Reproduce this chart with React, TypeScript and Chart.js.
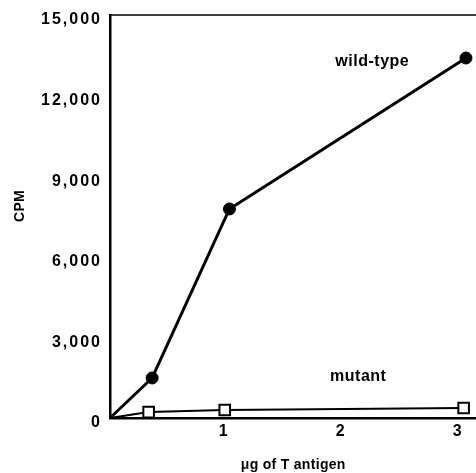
import React, { useEffect, useRef } from "react";
import { Chart, registerables } from "chart.js";

Chart.register(...registerables);

// ---- data ----
const wildTypeX = [0, 0.36, 1.02, 3.04];
const wildTypeY = [0, 1490, 7780, 13400];
const mutantX = [0, 0.33, 0.98, 3.02];
const mutantY = [0, 220, 300, 370];
const yTickValues = [0, 3000, 6000, 9000, 12000, 15000];
const xTickValues = [1, 2, 3];
const seriesNames = ["wild-type", "mutant"];
// label anchors in data space (x, y)
const seriesLabelX = [2.24, 2.12];
const seriesLabelY = [13250, 1530];
const xTitle = "\u03bcg of T antigen";
const yTitle = "CPM";

const FONT = "'Liberation Sans', Arial, Helvetica, sans-serif";

export default function App() {
  const ref = useRef<HTMLCanvasElement | null>(null);

  useEffect(() => {
    const canvas = ref.current;
    if (!canvas) return;

    const textPlugin = {
      id: "textPlugin",
      beforeDraw(chart: any) {
        chart.ctx.letterSpacing = "2px";
      },
      afterDraw(chart: any) {
        const ctx = chart.ctx;
        const { left, right, top } = chart.chartArea;
        const xs = chart.scales.x;
        const ys = chart.scales.y;
        ctx.save();
        // top frame line
        ctx.strokeStyle = "#000";
        ctx.lineWidth = 1.5;
        ctx.beginPath();
        ctx.moveTo(left - 1, top);
        ctx.lineTo(right, top);
        ctx.stroke();

        ctx.fillStyle = "#000";
        ctx.textAlign = "center";
        ctx.textBaseline = "middle";
        ctx.letterSpacing = "0.5px";
        ctx.font = `bold 16px ${FONT}`;
        seriesNames.forEach((n, i) => {
          ctx.fillText(
            n,
            xs.getPixelForValue(seriesLabelX[i]),
            ys.getPixelForValue(seriesLabelY[i])
          );
        });

        ctx.font = `bold 14px ${FONT}`;
        ctx.letterSpacing = "0.3px";
        ctx.fillText(xTitle, (left + right) / 2, 465);

        ctx.translate(20, 206);
        ctx.rotate(-Math.PI / 2);
        ctx.fillText(yTitle, 0, 0);
        ctx.restore();
      },
    };

    const chart = new Chart(canvas, {
      type: "line",
      data: {
        datasets: [
          {
            label: seriesNames[0],
            data: wildTypeX.map((x, i) => ({ x, y: wildTypeY[i] })),
            borderColor: "#000",
            borderWidth: 3,
            backgroundColor: "#000",
            pointBackgroundColor: "#000",
            pointBorderColor: "#000",
            pointBorderWidth: 1,
            pointRadius: wildTypeX.map((_, i) => (i === 0 ? 0 : 6)),
            pointStyle: "circle",
            tension: 0,
            clip: false as any,
          },
          {
            label: seriesNames[1],
            data: mutantX.map((x, i) => ({ x, y: mutantY[i] })),
            borderColor: "#000",
            borderWidth: 2,
            backgroundColor: "#fff",
            pointBackgroundColor: "#fff",
            pointBorderColor: "#000",
            pointBorderWidth: 2,
            pointRadius: mutantX.map((_, i) => (i === 0 ? 0 : 7.5)),
            pointStyle: "rect",
            tension: 0,
            clip: false as any,
          },
        ],
      },
      options: {
        animation: false,
        responsive: false,
        maintainAspectRatio: false,
        layout: { padding: { top: 15, right: 0, left: 0, bottom: 0 } },
        plugins: {
          legend: { display: false },
          tooltip: { enabled: false },
          title: { display: false },
        },
        scales: {
          x: {
            type: "linear",
            min: 0,
            max: 3.13,
            grid: { display: false, drawTicks: false },
            border: { display: true, color: "#000", width: 2.5 },
            afterFit: (s: any) => {
              s.height = 55;
              s.paddingLeft = 0;
              s.paddingRight = 0;
            },
            ticks: {
              stepSize: 1,
              includeBounds: false,
              autoSkip: false,
              maxRotation: 0,
              padding: 4,
              labelOffset: -3,
              color: "#000",
              font: { family: FONT, size: 16, weight: "bold" },
              callback: (v: any) => (xTickValues.includes(Number(v)) ? String(v) : ""),
            },
          },
          y: {
            type: "linear",
            min: 0,
            max: 15000,
            grid: { display: false, drawTicks: false },
            border: { display: true, color: "#000", width: 2.5 },
            afterFit: (s: any) => {
              s.width = 110;
              s.paddingTop = 0;
              s.paddingBottom = 0;
            },
            ticks: {
              stepSize: 3000,
              autoSkip: false,
              padding: 8,
              labelOffset: 5,
              color: "#000",
              font: { family: FONT, size: 16, weight: "bold" },
              callback: (v: any) =>
                yTickValues.includes(Number(v)) ? Number(v).toLocaleString("en-US") : "",
            },
          },
        },
      },
      plugins: [textPlugin],
    });

    return () => chart.destroy();
  }, []);

  return (
    <div
      style={{
        position: "absolute",
        left: 0,
        top: 0,
        width: 476,
        height: 473,
        overflow: "hidden",
        background: "#fff",
      }}
    >
      <canvas ref={ref} width={486} height={473} style={{ display: "block" }} />
    </div>
  );
}
